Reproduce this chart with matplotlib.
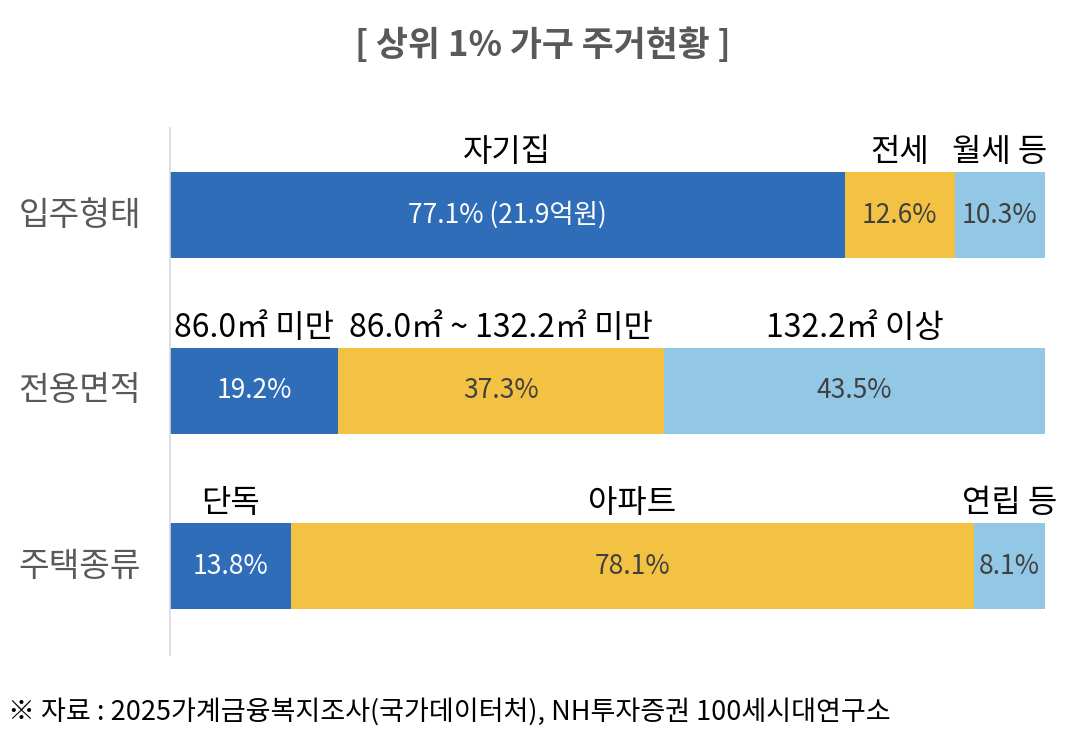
import matplotlib
matplotlib.use("Agg")
import matplotlib.pyplot as plt

plt.rcParams['font.family'] = ['Noto Sans CJK KR', 'DejaVu Sans']

title = "[ 상위 1% 가구 주거현황 ]"
categories = ['입주형태', '전용면적', '주택종류']
seg_names = [['자기집', '전세', '월세 등'],
             ['86.0㎡ 미만', '86.0㎡ ~ 132.2㎡ 미만', '132.2㎡ 이상'],
             ['단독', '아파트', '연립 등']]
values = [[77.1, 12.6, 10.3],
          [19.2, 37.3, 43.5],
          [13.8, 78.1, 8.1]]
extra_note = {(0, 0): ' (21.9억원)'}
footer = "※ 자료 : 2025가계금융복지조사(국가데이터처), NH투자증권 100세시대연구소"

colors = ['#2F6DB9', '#F4C243', '#93C7E6']
text_colors = ['white', '#404040', '#404040']

W, H = 1079, 746
fig = plt.figure(figsize=(W / 100, H / 100), dpi=100)
left, right, top, bottom = 170, 1045, 128, 655
ax = fig.add_axes([left / W, 1 - bottom / H, (right - left) / W, (bottom - top) / H])

spacing = 175.5
centers = [0, 1, 2]
bar_h = 86 / spacing
ax.set_xlim(0, 100)
ax.set_ylim((bottom - 215) / spacing, (top - 215) / spacing)

for i, row in enumerate(values):
    start = 0
    for j, v in enumerate(row):
        ax.barh(centers[i], v, left=start, height=bar_h, color=colors[j],
                edgecolor='none')
        label = f"{v:.1f}%" + extra_note.get((i, j), '')
        ax.text(start + v / 2, centers[i], label, ha='center', va='center',
                color=text_colors[j], fontsize=19)
        ax.text(start + v / 2, centers[i] - bar_h / 2 - 0.02, seg_names[i][j],
                ha='center', va='bottom', color='black', fontsize=23)
        start += v
    ax.text(-0.103, centers[i], categories[i], transform=ax.get_yaxis_transform(),
            ha='center', va='center', color='#595959', fontsize=24)

for s in ['top', 'right', 'bottom']:
    ax.spines[s].set_visible(False)
ax.spines['left'].set_color('#D9D9D9')
ax.spines['left'].set_linewidth(1.2)
ax.set_xticks([])
ax.set_yticks([])

fig.text(543 / W, 1 - 45 / H, title, ha='center', va='center', fontsize=25,
         fontweight='bold', color='#595959')
fig.text(8 / W, 1 - 712 / H, footer, ha='left', va='center', fontsize=19.5,
         color='black')

fig.savefig('out.png', dpi=100)
